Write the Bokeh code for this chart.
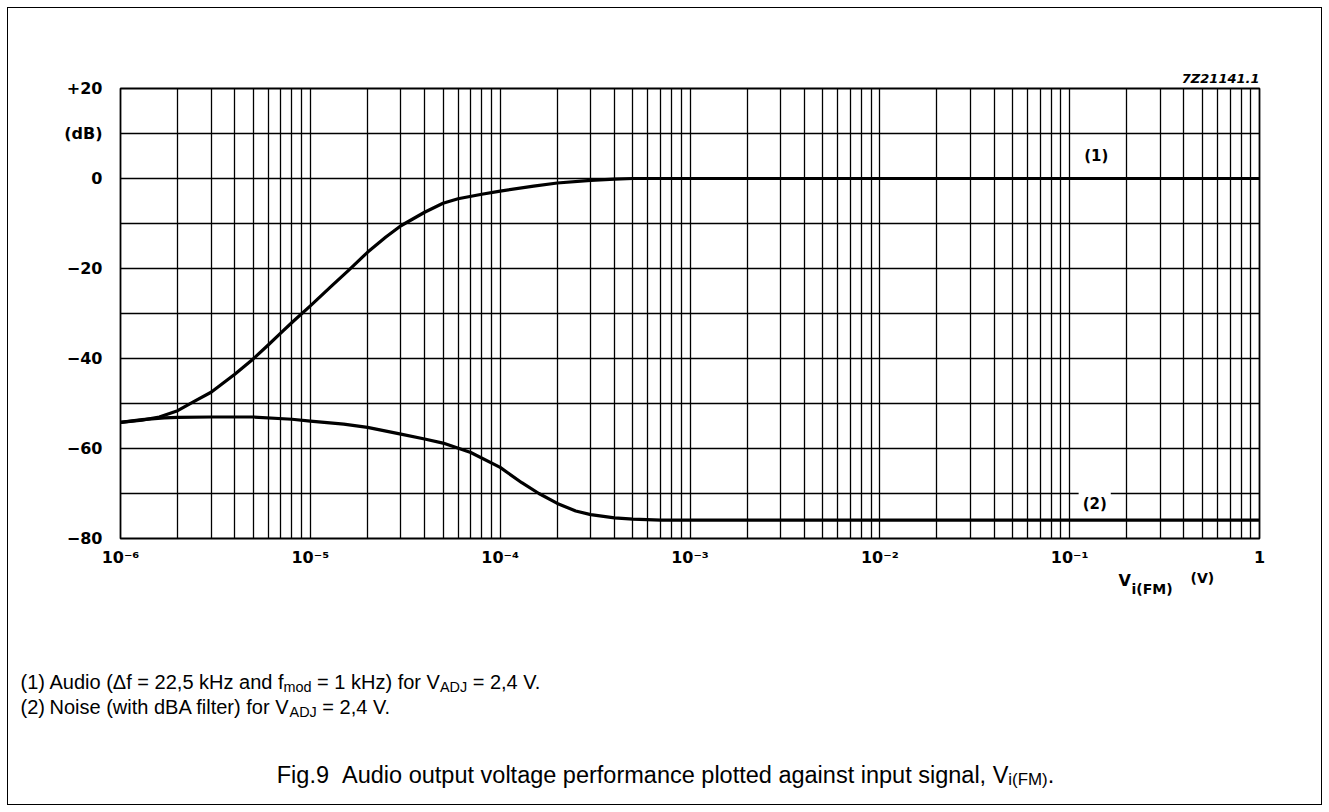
from bokeh.plotting import figure
from bokeh.layouts import column
from bokeh.models import FixedTicker, Label, Range1d, CustomJSTickFormatter
from bokeh.embed import file_html
from bokeh.resources import INLINE

# ---------------- data ----------------
audio_v = [1.0e-6, 1.3e-6, 1.6e-6, 2.0e-6, 2.5e-6, 3.0e-6, 4.0e-6, 5.0e-6, 6.0e-6,
           7.0e-6, 8.0e-6, 1.0e-5, 1.3e-5, 1.6e-5, 2.0e-5, 2.5e-5, 3.0e-5, 4.0e-5,
           5.0e-5, 6.0e-5, 8.0e-5, 1.0e-4, 1.5e-4, 2.0e-4, 3.0e-4, 4.0e-4, 5.0e-4,
           1.0e-3, 1.0]
audio_db = [-54.2, -53.7, -53.0, -51.6, -49.3, -47.5, -43.5, -40.1, -37.0,
            -34.3, -32.0, -28.3, -23.8, -20.3, -16.4, -13.0, -10.5, -7.5,
            -5.5, -4.5, -3.5, -2.8, -1.7, -1.0, -0.4, -0.15, 0.0,
            0.0, 0.0]

noise_v = [1.0e-6, 1.3e-6, 1.7e-6, 2.0e-6, 3.0e-6, 5.0e-6, 8.0e-6, 1.0e-5, 1.5e-5,
           2.0e-5, 3.0e-5, 4.0e-5, 5.0e-5, 7.0e-5, 1.0e-4, 1.3e-4, 1.6e-4, 2.0e-4,
           2.5e-4, 3.0e-4, 4.0e-4, 5.0e-4, 7.0e-4, 1.0e-3, 1.0]
noise_db = [-54.2, -53.6, -53.2, -53.1, -53.0, -53.0, -53.5, -53.9, -54.6,
            -55.3, -56.8, -57.9, -58.8, -60.9, -64.2, -67.6, -70.0, -72.2,
            -73.9, -74.7, -75.4, -75.7, -75.9, -75.9, -75.9]

x_ticks = [1e-6, 1e-5, 1e-4, 1e-3, 1e-2, 1e-1, 1.0]
x_tick_labels = ["10\u207b\u2076", "10\u207b\u2075", "10\u207b\u2074", "10\u207b\u00b3",
                 "10\u207b\u00b2", "10\u207b\u00b9", "1"]
x_grid_mult = [1, 2, 3, 4, 5, 6, 7, 8, 9]
y_ticks = [20, 10, 0, -20, -40, -60, -80]
y_tick_labels = ["+20", "(dB)", "0", "\u221220", "\u221240", "\u221260", "\u221280"]
y_grid = [20, 10, 0, -10, -20, -30, -40, -50, -60, -70, -80]

curve_labels = ["(1)", "(2)"]
chart_id = "7Z21141.1"
foot1 = ["(1)", "Audio (\u0394f = 22,5 kHz and f", "mod", " = 1 kHz) for V", "ADJ", " = 2,4 V."]
foot2 = ["(2)", "Noise (with dBA filter) for V", "ADJ", " = 2,4 V."]
caption = ["Fig.9", "  Audio output voltage performance plotted against input signal, V", "i(FM)", "."]
xlabel = ["V", "i(FM)", "(V)"]

# ---------------- helpers ----------------
ARIAL = {' ': 278, '!': 278, '(': 333, ')': 333, ',': 278, '.': 278, '=': 584,
         'A': 667, 'B': 667, 'C': 722, 'D': 722, 'F': 611, 'H': 722, 'I': 278, 'J': 500,
         'K': 667, 'M': 833, 'N': 722, 'V': 667, 'a': 556, 'b': 556, 'c': 500, 'd': 556,
         'e': 556, 'f': 278, 'g': 556, 'h': 556, 'i': 222, 'k': 500, 'l': 222, 'm': 833,
         'n': 556, 'o': 556, 'p': 556, 'r': 333, 's': 500, 't': 278, 'u': 556, 'v': 500,
         'w': 722, 'x': 500, 'y': 500, 'z': 500, '\u0394': 668}
for _d in "0123456789":
    ARIAL[_d] = 556


def tw(s, size):
    return sum(ARIAL.get(c, 556) for c in s) * size / 1000.0


PAGE_W, PAGE_H = 1313, 796          # inside the 8px page margin
CH = 561                            # height of the chart figure
TH = PAGE_H - CH                    # height of the text strip below it
OX, OY = 8, 8 + CH                  # page position of the text strip origin

# ---------------- chart ----------------
p = figure(width=PAGE_W, height=CH, x_axis_type="log",
           x_range=Range1d(1e-6, 1.0), y_range=Range1d(-80, 20),
           output_backend="svg", toolbar_location=None,
           min_border_left=112, min_border_right=62, min_border_top=80, min_border_bottom=CH - 531)
p.frame_align = False
p.background_fill_color = "white"
p.border_fill_color = "white"
p.outline_line_color = "black"
p.outline_line_width = 1.8

p.title.text = chart_id
p.title.align = "right"
p.title.text_font = "DejaVu Sans"
p.title.text_font_style = "bold italic"
p.title.text_font_size = "13px"
p.title.text_color = "black"
p.title.standoff = 5

x_grid = [m * d for d in x_ticks[:-1] for m in x_grid_mult] + [x_ticks[-1]]
p.xgrid.ticker = FixedTicker(ticks=x_grid)
p.ygrid.ticker = FixedTicker(ticks=y_grid)
for g in (p.xgrid, p.ygrid):
    g.grid_line_color = "black"
    g.grid_line_width = 1.3
    g.grid_line_alpha = 1.0

p.xaxis.ticker = FixedTicker(ticks=x_ticks, minor_ticks=[])
p.xaxis.formatter = CustomJSTickFormatter(args=dict(tv=x_ticks, lbl=x_tick_labels), code="""
let best = 0, d = 1e9;
for (let i = 0; i < tv.length; i++) {
  const dd = Math.abs(Math.log10(tick) - Math.log10(tv[i]));
  if (dd < d) { d = dd; best = i; }
}
return lbl[best];
""")
p.yaxis.ticker = FixedTicker(ticks=y_ticks, minor_ticks=[])
p.yaxis.formatter = CustomJSTickFormatter(args=dict(tv=y_ticks, lbl=y_tick_labels), code="""
let best = 0, d = 1e9;
for (let i = 0; i < tv.length; i++) {
  const dd = Math.abs(tick - tv[i]);
  if (dd < d) { d = dd; best = i; }
}
return lbl[best];
""")
for ax in (p.xaxis, p.yaxis):
    ax.axis_line_color = None
    ax.major_tick_line_color = None
    ax.minor_tick_line_color = None
    ax.major_label_text_font = "DejaVu Sans"
    ax.major_label_text_font_style = "bold"
    ax.major_label_text_font_size = "16px"
    ax.major_label_text_color = "black"
p.xaxis.major_label_standoff = 3
p.yaxis.major_label_standoff = 12

p.line(audio_v, audio_db, line_width=3.2, line_color="black", line_join="round", line_cap="round")
p.line(noise_v, noise_db, line_width=3.2, line_color="black", line_join="round", line_cap="round")

p.add_layout(Label(x=0.138, y=5.0, text=curve_labels[0], text_align="center", text_baseline="middle",
                   text_font="DejaVu Sans", text_font_style="bold", text_font_size="15px",
                   text_color="black"))
p.add_layout(Label(x=0.1355, y=-72.3, text=curve_labels[1], text_align="center", text_baseline="middle",
                   text_font="DejaVu Sans", text_font_style="bold", text_font_size="15px",
                   text_color="black", background_fill_color="white", padding=4))

# ---------------- text strip (pixel coordinates, y downward) ----------------
t = figure(width=PAGE_W, height=TH, x_range=Range1d(0, PAGE_W), y_range=Range1d(TH, 0),
           output_backend="svg", toolbar_location=None,
           x_axis_location=None, y_axis_location=None,
           min_border_left=0, min_border_right=0, min_border_top=0, min_border_bottom=0)
t.frame_align = False
t.outline_line_color = None
t.xgrid.visible = False
t.ygrid.visible = False
t.background_fill_color = "white"
t.border_fill_color = "white"


def put(txt, xp, yp, size, font="Liberation Sans", style="normal", align="left"):
    t.add_layout(Label(x=xp - OX, y=yp - OY, text=txt, text_align=align, text_baseline="alphabetic",
                       text_font=font, text_font_style=style, text_font_size="%.1fpx" % size,
                       text_color="black"))


def run(pieces, subs, xp, yp, size):
    for txt, is_sub in zip(pieces, subs):
        s = size * 0.72 if is_sub else size
        body = txt.lstrip(" ")
        xp += tw(txt[:len(txt) - len(body)], s)   # leading blanks as an offset (SVG collapses them)
        put(body, xp, yp + (5 if is_sub else 0), s)
        xp += tw(body, s)


# x-axis quantity V_i(FM) (V)
put(xlabel[0], 1118, 580, 16, font="DejaVu Sans", style="bold")
put(xlabel[1], 1131, 588, 14, font="DejaVu Sans", style="bold")
put(xlabel[2], 1190, 577, 14, font="DejaVu Sans", style="bold")

FS = 20
put(foot1[0], 20, 681, FS)
run(foot1[1:], [False, True, False, True, False], 49, 681, FS)
put(foot2[0], 20, 706, FS)
run(foot2[1:], [False, True, False], 49, 706, FS)

CS = 23.5
cw = (tw(caption[0], CS) + tw(caption[1], CS) + tw(caption[2], CS * 0.72) + tw(caption[3], CS))
run(caption, [False, False, True, False], 665 - cw / 2.0, 774, CS)

page = column(p, t, spacing=0,
              styles={"margin": "8px", "outline": "1.5px solid #000", "outline-offset": "0px"})

open("out.html", "w").write(file_html(page, INLINE))
